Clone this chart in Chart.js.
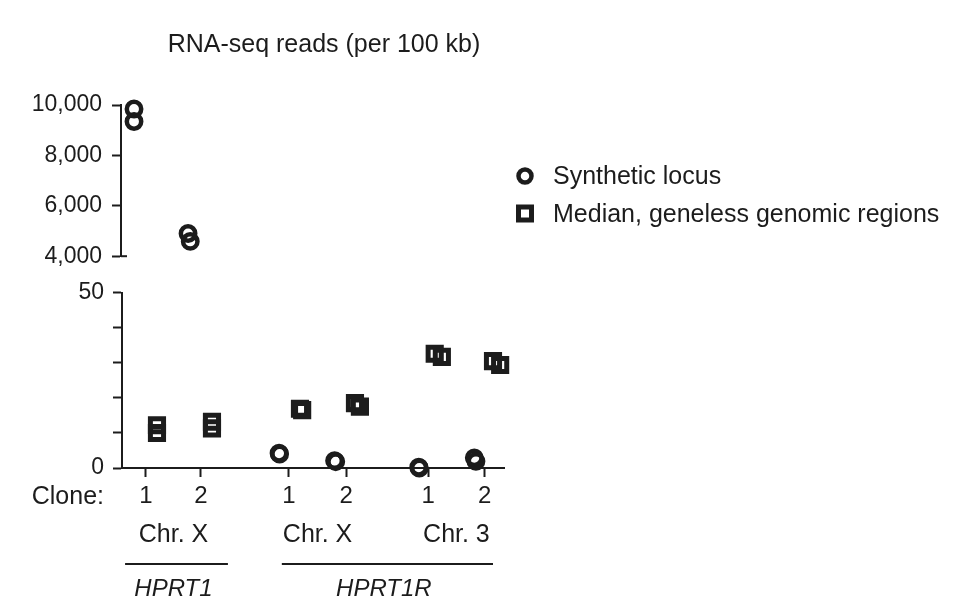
<!DOCTYPE html>
<html lang="en">
<head>
<meta charset="UTF-8" />
<title>RNA-seq reads</title>
<script src="https://cdn.jsdelivr.net/npm/chart.js"></script>
<style>
  body { margin: 0; background: #fff; }
  .quadro { position: relative; width: 962px; height: 616px; overflow: hidden; }
  #canvas_topo { position: absolute; left: 0; top: 0; }
  #canvas_base { position: absolute; left: 0; top: 270px; }
</style>
</head>
<body>
<div class="quadro">
  <canvas id="canvas_topo" width="962" height="280"></canvas>
  <canvas id="canvas_base" width="962" height="346"></canvas>
</div>
<script>
  // eixo x: posicao de cada clone
  var posicao_clone = [0, 1, 2.6, 3.64, 5.13, 6.16];
  var rotulo_clone = ["1", "2", "1", "2", "1", "2"];
  var cromossomo = ["Chr. X", "Chr. X", "Chr. 3"];
  var gene = ["HPRT1", "HPRT1R"];
  var titulo = "RNA-seq reads (per 100 kb)";
  var nomes_series = ["Synthetic locus", "Median, geneless genomic regions"];

  // ticks do eixo y (parte de cima e parte de baixo)
  var ticks_topo = [4000, 6000, 8000, 10000];
  var ticks_base = [0, 10, 20, 30, 40, 50];
  var rotulos_base = ["0", "", "", "", "", "50"];

  // locus sintetico, 2 replicas por clone
  var x_sintetico = [-0.2, -0.2, 0.78, 0.82, 2.42, 2.43, 3.43, 3.45, 4.96, 4.97, 5.97, 6.0];
  var y_sintetico = [9843, 9345, 4902, 4588, 4.2, 4.0, 2.1, 1.8, 0.2, 0.0, 2.9, 1.9];

  // mediana das regioes sem genes
  var x_mediana = [0.2, 0.2, 1.2, 1.2, 2.8, 2.84, 3.8, 3.89, 5.25, 5.38, 6.31, 6.44];
  var y_mediana = [12.2, 10.0, 13.2, 11.3, 16.9, 16.5, 18.5, 17.5, 32.6, 31.7, 30.5, 29.4];

  var cor = "#1c1c1c";
  var fonte = "Liberation Sans, Arial, sans-serif";
  var x_min = -0.436;
  var x_max = 6.51;

  Chart.defaults.font.family = fonte;
  Chart.defaults.font.size = 23;
  Chart.defaults.color = cor;

  function pontos(xs, ys) {
    var lista = [];
    for (var i = 0; i < xs.length; i++) {
      lista.push({ x: xs[i], y: ys[i] });
    }
    return lista;
  }

  function criar_datasets() {
    return [
      {
        label: nomes_series[0],
        data: pontos(x_sintetico, y_sintetico),
        pointStyle: "circle",
        pointRadius: 7.2,
        pointBorderWidth: 4.5,
        borderColor: cor,
        backgroundColor: "rgba(0,0,0,0)",
        clip: 14,
      },
      {
        label: nomes_series[1],
        data: pontos(x_mediana, y_mediana),
        pointStyle: "rect",
        pointRadius: 9.3,
        pointBorderWidth: 5,
        borderColor: cor,
        backgroundColor: "rgba(0,0,0,0)",
        clip: 14,
      },
    ];
  }

  // titulo, legenda e marca de quebra no grafico de cima
  var plugin_topo = {
    id: "extras_topo",
    afterDraw(chart) {
      var ctx = chart.ctx;
      var area = chart.chartArea;
      ctx.save();
      ctx.fillStyle = cor;
      ctx.strokeStyle = cor;
      ctx.font = "25px " + fonte;
      ctx.textAlign = "center";
      ctx.textBaseline = "middle";
      ctx.fillText(titulo, 324, 45);

      // legenda
      ctx.textAlign = "left";
      ctx.lineWidth = 4.5;
      ctx.beginPath();
      ctx.arc(525, 176, 6.5, 0, Math.PI * 2);
      ctx.stroke();
      ctx.fillText(nomes_series[0], 553, 177);
      ctx.lineWidth = 5;
      ctx.strokeRect(518.5, 207, 13, 13);
      ctx.fillText(nomes_series[1], 553, 215);

      // marca de quebra em 4,000
      var yq = chart.scales.y.getPixelForValue(ticks_topo[0]);
      ctx.lineWidth = 2;
      ctx.beginPath();
      ctx.moveTo(area.left, yq);
      ctx.lineTo(area.left + 6, yq);
      ctx.stroke();
      ctx.restore();
    },
  };

  // rotulos de clone, cromossomo e gene no grafico de baixo
  var plugin_base = {
    id: "extras_base",
    afterDraw(chart) {
      var ctx = chart.ctx;
      var area = chart.chartArea;
      var sx = chart.scales.x;
      ctx.save();
      ctx.fillStyle = cor;
      ctx.strokeStyle = cor;
      ctx.font = "25px " + fonte;
      ctx.textBaseline = "middle";
      ctx.textAlign = "right";
      ctx.fillText("Clone:", 104, area.bottom + 29);

      ctx.textAlign = "center";
      for (var i = 0; i < cromossomo.length; i++) {
        var meio = (sx.getPixelForValue(posicao_clone[2 * i]) + sx.getPixelForValue(posicao_clone[2 * i + 1])) / 2;
        ctx.fillText(cromossomo[i], meio, area.bottom + 67);
      }

      var faixas = [[-0.38, 1.49], [2.47, 6.31]];
      ctx.font = "italic 24px " + fonte;
      ctx.lineWidth = 2;
      for (var j = 0; j < gene.length; j++) {
        var x1 = sx.getPixelForValue(faixas[j][0]);
        var x2 = sx.getPixelForValue(faixas[j][1]);
        ctx.beginPath();
        ctx.moveTo(x1, area.bottom + 96);
        ctx.lineTo(x2, area.bottom + 96);
        ctx.stroke();
        var centro = j === 0
          ? (sx.getPixelForValue(posicao_clone[0]) + sx.getPixelForValue(posicao_clone[1])) / 2
          : (sx.getPixelForValue(posicao_clone[2]) + sx.getPixelForValue(posicao_clone[5])) / 2 - 3;
        ctx.fillText(gene[j], centro, area.bottom + 121);
      }
      ctx.restore();
    },
  };

  function eixo_y(ticks, rotulos, largura, pad) {
    return {
      type: "linear",
      min: ticks[0],
      max: ticks[ticks.length - 1],
      afterBuildTicks(scale) {
        scale.ticks = ticks.map(function (v) { return { value: v }; });
      },
      afterFit(scale) {
        scale.width = largura;
      },
      ticks: {
        padding: pad,
        callback: function (valor, indice) {
          return rotulos[indice];
        },
      },
      grid: {
        drawOnChartArea: false,
        drawTicks: true,
        tickLength: 9,
        tickWidth: 2,
        color: cor,
      },
      border: { display: true, width: 2, color: cor },
    };
  }

  function criar_grafico_topo() {
    var rotulos_topo = ticks_topo.map(function (v) { return v.toLocaleString("en-US"); });
    new Chart(document.getElementById("canvas_topo"), {
      type: "scatter",
      data: { datasets: criar_datasets() },
      options: {
        responsive: false,
        animation: false,
        layout: { padding: { top: 105, bottom: 22, left: 0, right: 458 } },
        plugins: { legend: { display: false }, tooltip: { enabled: false } },
        scales: {
          x: { type: "linear", min: x_min, max: x_max, display: false },
          y: eixo_y(ticks_topo, rotulos_topo, 121, 10),
        },
      },
      plugins: [plugin_topo],
    });
  }

  function criar_grafico_base() {
    new Chart(document.getElementById("canvas_base"), {
      type: "scatter",
      data: { datasets: criar_datasets() },
      options: {
        responsive: false,
        animation: false,
        layout: { padding: { top: 22, bottom: 108, left: 0, right: 458 } },
        plugins: { legend: { display: false }, tooltip: { enabled: false } },
        scales: {
          x: {
            type: "linear",
            min: x_min,
            max: x_max,
            afterBuildTicks(scale) {
              scale.ticks = posicao_clone.map(function (v) { return { value: v }; });
            },
            afterFit(scale) {
              scale.height = 40;
            },
            ticks: {
              autoSkip: false,
              maxRotation: 0,
              padding: 5,
              font: { size: 24 },
              callback: function (valor, indice) {
                return rotulo_clone[indice];
              },
            },
            grid: {
              drawOnChartArea: false,
              drawTicks: true,
              tickLength: 9,
              tickWidth: 2,
              color: cor,
            },
            border: { display: true, width: 2, color: cor },
          },
          y: eixo_y(ticks_base, rotulos_base, 122, 9),
        },
      },
      plugins: [plugin_base],
    });
  }

  criar_grafico_topo();
  criar_grafico_base();
</script>
</body>
</html>
